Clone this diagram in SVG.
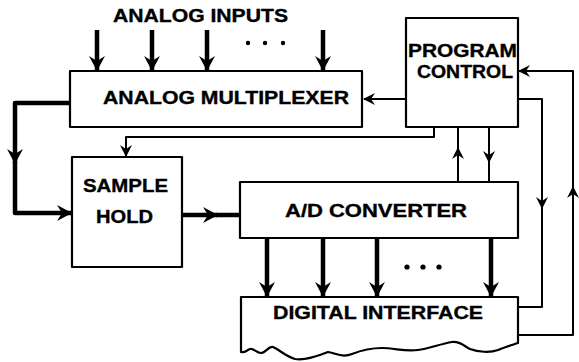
<svg xmlns="http://www.w3.org/2000/svg" width="579" height="362" viewBox="0 0 579 362">
  <style>
    .box { fill: #fff; stroke: #000; stroke-width: 2.2; stroke-linejoin: round; }
    .thick { fill: none; stroke: #000; stroke-width: 4.5; stroke-linejoin: round; }
    .thin { fill: none; stroke: #000; stroke-width: 2; stroke-linejoin: round; }
    .lbl { font-family: "Liberation Sans", Arial, sans-serif; font-weight: bold; font-size: 18px; fill: #000; stroke: #000; stroke-width: 0.35; }
    .dot { fill: #000; }
  </style>
  <defs>
    <!-- filled barbed head for heavy data paths -->
    <marker id="headThick" markerUnits="userSpaceOnUse" markerWidth="20" markerHeight="20" refX="0" refY="0" viewBox="-16 -10 20 20" orient="auto" overflow="visible">
      <path d="M1,0 L-14,-8 L-9,0 L-14,8 Z" fill="#000"/>
    </marker>
    <!-- lighter head for control lines -->
    <marker id="headThin" markerUnits="userSpaceOnUse" markerWidth="16" markerHeight="16" refX="0" refY="0" viewBox="-12 -8 16 16" orient="auto" overflow="visible">
      <path d="M1,0 L-11,-6 L-7,0 L-11,6 Z" fill="#000"/>
    </marker>
  </defs>

  <text class="lbl" x="113" y="22" textLength="175" lengthAdjust="spacingAndGlyphs">ANALOG INPUTS</text>

  <g id="connectors">
    <!-- analog inputs into the multiplexer -->
    <path class="thick" d="M97,30 V70" marker-end="url(#headThick)"/>
    <path class="thick" d="M152,30 V70" marker-end="url(#headThick)"/>
    <path class="thick" d="M207,30 V70" marker-end="url(#headThick)"/>
    <path class="thick" d="M323,30 V70" marker-end="url(#headThick)"/>
    <circle class="dot" cx="248" cy="43" r="2.2"/>
    <circle class="dot" cx="265" cy="43" r="2.2"/>
    <circle class="dot" cx="283" cy="43" r="2.2"/>

    <!-- multiplexer output to sample/hold -->
    <path class="thick" d="M70,103 H15 V163" marker-end="url(#headThick)"/>
    <path class="thick" d="M15,162 V213 H71" marker-end="url(#headThick)"/>

    <!-- sample/hold to A/D -->
    <path class="thick" d="M182,215 H217" marker-end="url(#headThick)"/>
    <path class="thick" d="M216,215 H240"/>

    <!-- A/D parallel outputs to digital interface -->
    <path class="thick" d="M267,238 V296" marker-end="url(#headThick)"/>
    <path class="thick" d="M323,238 V296" marker-end="url(#headThick)"/>
    <path class="thick" d="M377,238 V296" marker-end="url(#headThick)"/>
    <path class="thick" d="M491,238 V296" marker-end="url(#headThick)"/>
    <circle class="dot" cx="407" cy="267" r="2.6"/>
    <circle class="dot" cx="423" cy="267" r="2.6"/>
    <circle class="dot" cx="439" cy="267" r="2.6"/>

    <!-- program control lines -->
    <path class="thin" d="M406,99 H364" marker-end="url(#headThin)"/>
    <path class="thin" d="M434,127 V137 H126 V156" marker-end="url(#headThin)"/>
    <path class="thin" d="M458,182 V148" marker-end="url(#headThin)"/>
    <path class="thin" d="M458,149 V127"/>
    <path class="thin" d="M489,127 V162" marker-end="url(#headThin)"/>
    <path class="thin" d="M489,161 V182"/>
    <path class="thin" d="M518,99 H542 V208" marker-end="url(#headThin)"/>
    <path class="thin" d="M542,207 V307 H518"/>
    <path class="thin" d="M518,335 H573 V187" marker-end="url(#headThin)"/>
    <path class="thin" d="M573,188 V71 H519" marker-end="url(#headThin)"/>
  </g>

  <g id="analog-multiplexer">
    <rect class="box" x="70" y="71" width="292" height="56"/>
    <text class="lbl" x="103" y="104" textLength="246" lengthAdjust="spacingAndGlyphs">ANALOG MULTIPLEXER</text>
  </g>

  <g id="program-control">
    <rect class="box" x="406" y="18" width="112" height="109"/>
    <text class="lbl" x="408" y="57" textLength="109" lengthAdjust="spacingAndGlyphs">PROGRAM</text>
    <text class="lbl" x="417" y="78" textLength="96" lengthAdjust="spacingAndGlyphs">CONTROL</text>
  </g>

  <g id="sample-hold">
    <rect class="box" x="72" y="157" width="110" height="110"/>
    <text class="lbl" x="83" y="192" textLength="85" lengthAdjust="spacingAndGlyphs">SAMPLE</text>
    <text class="lbl" x="96" y="223" textLength="57" lengthAdjust="spacingAndGlyphs">HOLD</text>
  </g>

  <g id="ad-converter">
    <rect class="box" x="240" y="182" width="278" height="56"/>
    <text class="lbl" x="285" y="217" textLength="182" lengthAdjust="spacingAndGlyphs">A/D CONVERTER</text>
  </g>

  <g id="digital-interface">
    <path class="box" d="M241,352 V297 H518 V343
      C512,345 505,347 498,350
      C490,353 478,352 470,349
      C464,346 460,341 452,342
      C440,344 428,349 418,350
      C405,352 395,348 382,348
      C370,348 362,350 352,354
      C342,358 335,353 328,352
      C318,356 305,361 295,359
      C285,356 280,350 273,347
      C268,346 266,353 261,353
      C256,353 254,348 250,349
      C247,350 245,353 241,352 Z"/>
    <text class="lbl" x="273" y="319" textLength="210" lengthAdjust="spacingAndGlyphs">DIGITAL INTERFACE</text>
  </g>
</svg>
